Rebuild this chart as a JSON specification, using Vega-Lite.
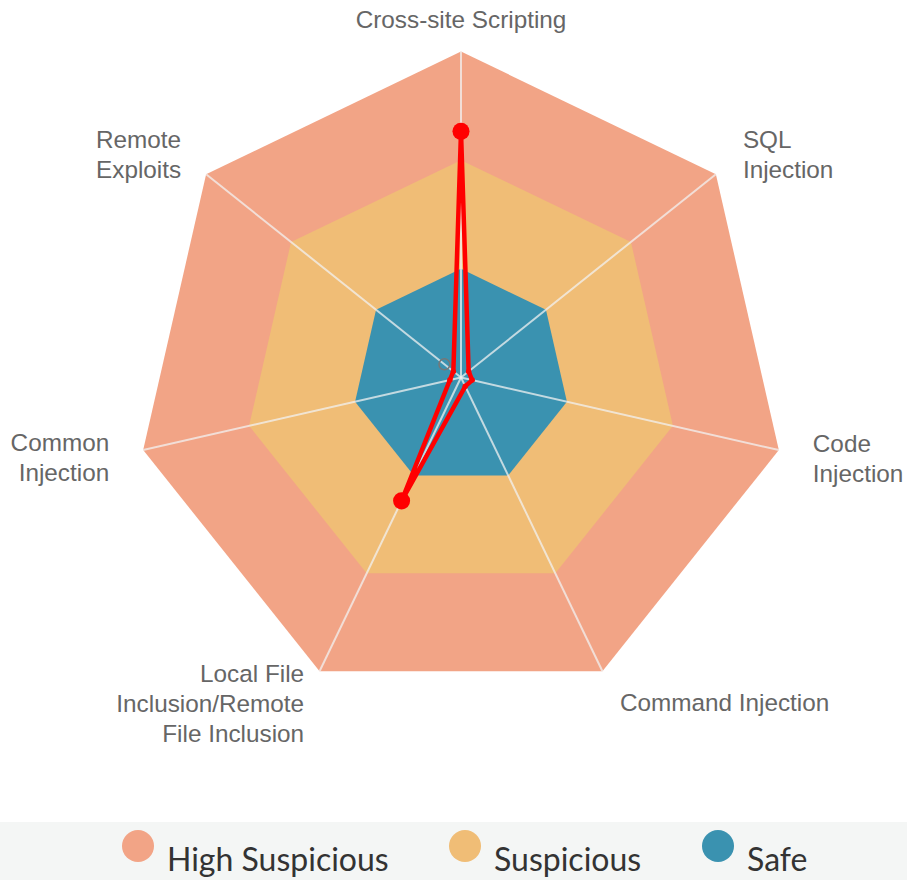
{
  "$schema": "https://vega.github.io/schema/vega-lite/v6.json",
  "width": 907,
  "height": 880,
  "autosize": {"type": "fit", "contains": "padding"},
  "padding": 0,
  "background": "white",
  "config": {
    "view": {"stroke": null},
    "text": {"font": "Liberation Sans", "fontSize": 24.3, "fill": "#666666", "lineBreak": "\n", "lineHeight": 30, "baseline": "middle"}
  },
  "datasets": {
    "axes": [
      {"category": "Cross-site Scripting", "k": 0, "label": "Cross-site Scripting"},
      {"category": "SQL Injection", "k": 1, "label": "SQL\nInjection"},
      {"category": "Code Injection", "k": 2, "label": "Code\nInjection"},
      {"category": "Command Injection", "k": 3, "label": "Command Injection"},
      {"category": "Local File Inclusion/Remote File Inclusion", "k": 4, "label": "Local File\nInclusion/Remote\nFile Inclusion"},
      {"category": "Common Injection", "k": 5, "label": "Common\nInjection"},
      {"category": "Remote Exploits", "k": 6, "label": "Remote\nExploits"}
    ],
    "levels": [
      {"level": "High Suspicious", "r": 100, "k": [0, 1, 2, 3, 4, 5, 6]},
      {"level": "Suspicious", "r": 66.67, "k": [0, 1, 2, 3, 4, 5, 6]},
      {"level": "Safe", "r": 33.33, "k": [0, 1, 2, 3, 4, 5, 6]}
    ],
    "scores": [
      {"category": "Cross-site Scripting", "score": 75.5},
      {"category": "SQL Injection", "score": 3},
      {"category": "Code Injection", "score": 3.5},
      {"category": "Command Injection", "score": 3},
      {"category": "Local File Inclusion/Remote File Inclusion", "score": 42},
      {"category": "Common Injection", "score": 3.5},
      {"category": "Remote Exploits", "score": 3}
    ],
    "marker": [
      {"category": "Remote Exploits", "score": 6.5}
    ],
    "band": [{"from": -1.41411, "to": 1.3681, "top": -1.3635, "bottom": -1.54141}]
  },
  "encoding": {
    "x": {"field": "x", "type": "quantitative", "scale": {"domain": [-1.41411, 1.3681], "nice": false, "zero": false}, "axis": null},
    "y": {"field": "y", "type": "quantitative", "scale": {"domain": [-1.54141, 1.15798], "nice": false, "zero": false}, "axis": null}
  },
  "layer": [
    {
      "data": {"name": "band"},
      "mark": {"type": "rect", "fill": "#f4f6f5"},
      "encoding": {
        "x": {"field": "from", "type": "quantitative"},
        "x2": {"field": "to"},
        "y": {"field": "top", "type": "quantitative"},
        "y2": {"field": "bottom"}
      }
    },
    {
      "data": {"name": "levels"},
      "transform": [
        {"flatten": ["k"]},
        {"calculate": "datum.k * 2 * PI / 7", "as": "theta"},
        {"calculate": "datum.r / 100 * sin(datum.theta)", "as": "x"},
        {"calculate": "datum.r / 100 * cos(datum.theta)", "as": "y"}
      ],
      "mark": {"type": "line", "interpolate": "linear-closed", "filled": true, "strokeWidth": 0},
      "encoding": {
        "color": {
          "field": "level",
          "type": "nominal",
          "scale": {"domain": ["High Suspicious", "Suspicious", "Safe"], "range": ["#f2a486", "#f0bd76", "#3a92b0"]},
          "legend": {
            "title": null,
            "orient": "none",
            "direction": "horizontal",
            "legendX": 122,
            "legendY": 830,
            "padding": 0,
            "symbolType": "circle",
            "symbolSize": 1024,
            "symbolStrokeWidth": 0,
            "symbolOpacity": 1,
            "labelFont": "Lato",
            "labelFontSize": 32,
            "labelColor": "#333333",
            "labelOffset": 13,
            "labelBaseline": "top",
            "columnPadding": 60,
            "labelLimit": 400
          }
        },
        "order": {"field": "k", "type": "quantitative"}
      }
    },
    {
      "data": {"name": "axes"},
      "transform": [
        {"calculate": "datum.k * 2 * PI / 7", "as": "theta"},
        {"calculate": "sin(datum.theta)", "as": "x"},
        {"calculate": "cos(datum.theta)", "as": "y"}
      ],
      "mark": {"type": "rule", "stroke": "#f2f2f2", "strokeOpacity": 0.75, "strokeWidth": 2},
      "encoding": {"x2": {"datum": 0}, "y2": {"datum": 0}}
    },
    {
      "data": {"name": "scores"},
      "transform": [
        {"lookup": "category", "from": {"data": {"name": "axes"}, "key": "category", "fields": ["k"]}},
        {"calculate": "datum.k * 2 * PI / 7", "as": "theta"},
        {"calculate": "datum.score / 100 * sin(datum.theta)", "as": "x"},
        {"calculate": "datum.score / 100 * cos(datum.theta)", "as": "y"}
      ],
      "layer": [
        {
          "mark": {"type": "line", "interpolate": "linear-closed", "stroke": "#ff0000", "strokeWidth": 4.5},
          "encoding": {"order": {"field": "k", "type": "quantitative"}}
        },
        {
          "mark": {"type": "circle", "fill": "#ff0000", "opacity": 1},
          "encoding": {
            "size": {"field": "score", "type": "quantitative", "scale": {"type": "threshold", "domain": [10], "range": [30, 290]}, "legend": null}
          }
        }
      ]
    },
    {
      "data": {"name": "marker"},
      "transform": [
        {"lookup": "category", "from": {"data": {"name": "axes"}, "key": "category", "fields": ["k"]}},
        {"calculate": "datum.k * 2 * PI / 7", "as": "theta"},
        {"calculate": "datum.score / 100 * sin(datum.theta)", "as": "x"},
        {"calculate": "datum.score / 100 * cos(datum.theta)", "as": "y"}
      ],
      "mark": {"type": "point", "filled": false, "stroke": "#777777", "strokeWidth": 1.5, "size": 120, "opacity": 1}
    },
    {
      "data": {"name": "axes"},
      "transform": [
        {"calculate": "datum.k * 2 * PI / 7", "as": "theta"},
        {"calculate": "sin(datum.theta)", "as": "x"},
        {"calculate": "cos(datum.theta)", "as": "y"}
      ],
      "layer": [
        {"transform": [{"filter": "datum.k == 0"}], "mark": {"type": "text", "align": "center", "dx": 0, "dy": -31}, "encoding": {"text": {"field": "label"}}},
        {"transform": [{"filter": "datum.k == 1"}], "mark": {"type": "text", "align": "left", "dx": 27, "dy": -33.5}, "encoding": {"text": {"field": "label"}}},
        {"transform": [{"filter": "datum.k == 2"}], "mark": {"type": "text", "align": "left", "dx": 34, "dy": -5.5}, "encoding": {"text": {"field": "label"}}},
        {"transform": [{"filter": "datum.k == 3"}], "mark": {"type": "text", "align": "left", "dx": 17.5, "dy": 33}, "encoding": {"text": {"field": "label"}}},
        {"transform": [{"filter": "datum.k == 4"}], "mark": {"type": "text", "align": "right", "dx": -15.5, "dy": 3.5}, "encoding": {"text": {"field": "label"}}},
        {"transform": [{"filter": "datum.k == 5"}], "mark": {"type": "text", "align": "right", "dx": -34, "dy": -6}, "encoding": {"text": {"field": "label"}}},
        {"transform": [{"filter": "datum.k == 6"}], "mark": {"type": "text", "align": "right", "dx": -25, "dy": -33.5}, "encoding": {"text": {"field": "label"}}}
      ]
    }
  ]
}
